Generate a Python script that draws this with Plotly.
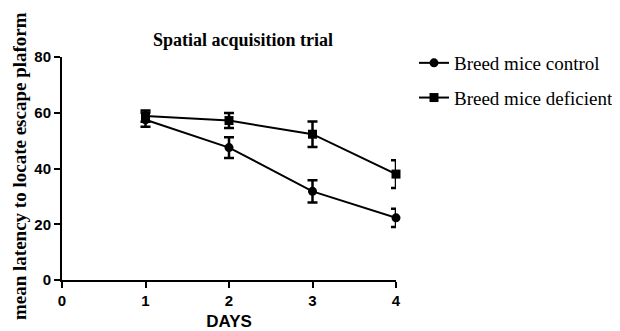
import plotly.graph_objects as go

days = [1, 2, 3, 4]
control = [57.5, 47.5, 31.8, 22.3]
control_err = [2.5, 3.7, 4.0, 3.3]
deficient = [58.8, 57.2, 52.3, 38.0]
deficient_err = [2.0, 2.7, 4.6, 5.0]
x_ticks = [0, 1, 2, 3, 4]
y_ticks = [0, 20, 40, 60, 80]

# page body has an 8px margin; figure coordinates are screen coordinates minus 8
OFF = 8
L, R, T, B = 62 - OFF, 396 - OFF, 57 - OFF, 280 - OFF
W, H = 620 - OFF, 331 - OFF
pw, ph = R - L, B - T

fig = go.Figure()
fig.add_trace(go.Scatter(
    x=days, y=control, name="Breed mice control", mode="lines+markers", legendgroup="a",
    line=dict(color="black", width=2), marker=dict(symbol="circle", size=9, color="black"),
    error_y=dict(type="data", array=control_err, color="black", thickness=2.5, width=5),
    cliponaxis=False))
fig.add_trace(go.Scatter(
    x=days, y=deficient, name="Breed mice deficient", mode="lines+markers", legendgroup="b",
    line=dict(color="black", width=2), marker=dict(symbol="square", size=9, color="black"),
    error_y=dict(type="data", array=deficient_err, color="black", thickness=2.5, width=5),
    cliponaxis=False))

fig.update_layout(
    width=W, height=H,
    margin=dict(l=L, r=W - R, t=T, b=H - B, autoexpand=False),
    plot_bgcolor="white", paper_bgcolor="white",
    title=dict(text="<b>Spatial acquisition trial</b>", x=(243 - OFF) / W, xanchor="center",
               y=1 - (40 - OFF) / H, yanchor="middle",
               font=dict(family="Liberation Serif", size=18, color="black")),
    legend=dict(x=(414 - OFF - L) / pw, y=(B - (44 - OFF)) / ph, xanchor="left", yanchor="top",
                font=dict(family="Liberation Serif", size=19, color="black"),
                tracegroupgap=7, itemwidth=30),
    xaxis=dict(range=[0, 4], tickvals=x_ticks, ticktext=[str(v) for v in x_ticks],
               showline=True, linecolor="black", linewidth=2, showgrid=False, zeroline=False,
               ticks="outside", tickwidth=2, ticklen=6, tickcolor="black", automargin=False,
               tickfont=dict(family="Liberation Sans", size=15, color="black", weight="bold"),
               title=dict(text="<b>DAYS</b>", font=dict(family="Liberation Sans", size=17, color="black"), standoff=7)),
    yaxis=dict(range=[0, 80], tickvals=y_ticks,
               showline=True, linecolor="black", linewidth=2, showgrid=False, zeroline=False,
               ticks="outside", tickwidth=2, ticklen=6, tickcolor="black", automargin=False,
               tickfont=dict(family="Liberation Sans", size=15, color="black", weight="bold")),
    annotations=[dict(text="<b>mean latency to locate escape plaform</b>", textangle=-90,
                      xref="paper", yref="paper", x=(19 - OFF - L) / pw, y=(B - (166 - OFF)) / ph,
                      xanchor="center", yanchor="middle", showarrow=False,
                      font=dict(family="Liberation Serif", size=19, color="black"))],
)
fig.write_html("out.html")
